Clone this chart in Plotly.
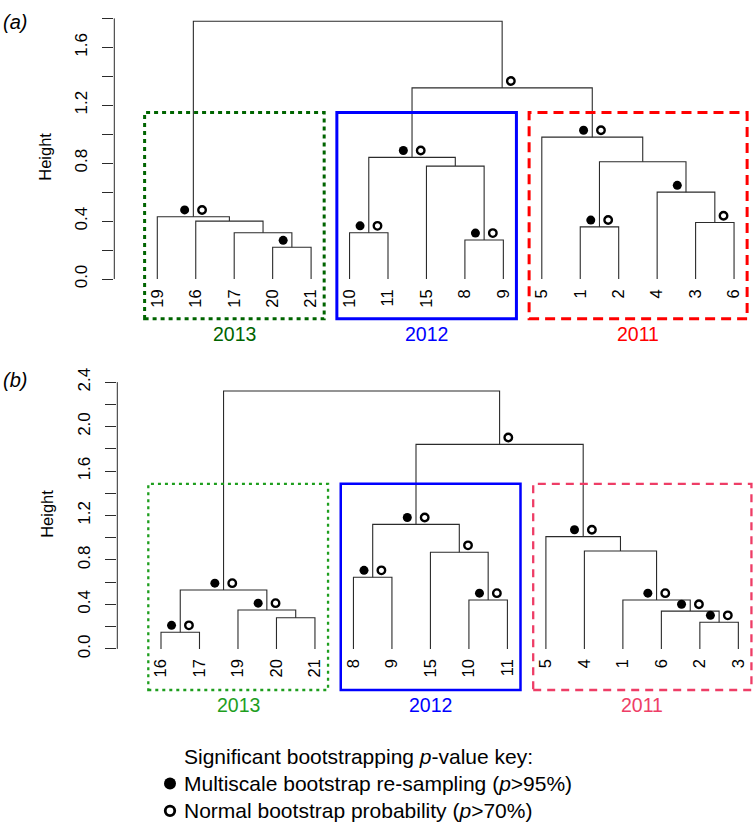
import plotly.graph_objects as go

# ---------------- data ----------------
leaves_a = ["19", "16", "17", "20", "21", "10", "11", "15", "8", "9", "5", "1", "2", "4", "3", "6"]
# each merge joins two children: a leaf label (str) or an earlier merge index (int)
merges_a = [("20", "21"), ("17", 0), ("16", 1), ("19", 2),
            ("10", "11"), ("8", "9"), ("15", 5), (4, 6),
            ("1", "2"), ("3", "6"), ("4", 9), (8, 10), ("5", 11),
            (7, 12), (3, 13)]
heights_a = [0.22, 0.32, 0.40, 0.43, 0.32, 0.27, 0.78, 0.84,
             0.36, 0.39, 0.60, 0.81, 0.98, 1.32, 1.78]
au_a = [1, 0, 0, 1, 1, 1, 0, 1, 1, 0, 1, 0, 1, 0, 0]   # multiscale bootstrap > 95%
bp_a = [0, 0, 0, 1, 1, 1, 0, 1, 1, 1, 0, 0, 1, 1, 0]   # normal bootstrap > 70%

leaves_b = ["16", "17", "19", "20", "21", "8", "9", "15", "10", "11", "5", "4", "1", "6", "2", "3"]
merges_b = [("16", "17"), ("20", "21"), ("19", 1), (0, 2),
            ("8", "9"), ("10", "11"), ("15", 5), (4, 6),
            ("2", "3"), ("6", 8), ("1", 9), ("4", 10), ("5", 11),
            (7, 12), (3, 13)]
heights_b = [0.15, 0.28, 0.35, 0.53, 0.645, 0.44, 0.87, 1.12,
             0.24, 0.34, 0.44, 0.88, 1.01, 1.84, 2.32]
au_b = [1, 0, 1, 1, 1, 1, 0, 1, 1, 1, 1, 0, 1, 0, 0]
bp_b = [1, 0, 1, 1, 1, 1, 1, 1, 1, 1, 1, 0, 1, 1, 0]

years = ["2013", "2012", "2011"]
year_leaves_a = [["19", "16", "17", "20", "21"], ["10", "11", "15", "8", "9"], ["5", "1", "2", "4", "3", "6"]]
year_leaves_b = [["16", "17", "19", "20", "21"], ["8", "9", "15", "10", "11"], ["5", "4", "1", "6", "2", "3"]]
box_top_a = 1.15
box_top_b = 1.485

yticks_a = [0.0, 0.2, 0.4, 0.6, 0.8, 1.0, 1.2, 1.4, 1.6, 1.8]
yticks_b = [0.0, 0.2, 0.4, 0.6, 0.8, 1.0, 1.2, 1.4, 1.6, 1.8, 2.0, 2.2, 2.4]

legend_title = "Significant bootstrapping <i>p</i>-value key:"
legend_au = "Multiscale bootstrap re-sampling (<i>p</i>>95%)"
legend_bp = "Normal bootstrap probability (<i>p</i>>70%)"

# ---------------- layout geometry (pixels) ----------------
W, H = 753, 834
FONT = "Liberation Sans, Arial, Helvetica, sans-serif"
LINE = "#2b2b2b"

panels = [
    dict(tag="(a)", leaves=leaves_a, merges=merges_a, heights=heights_a, au=au_a, bp=bp_a,
         yl=year_leaves_a, btop=box_top_a, yticks=yticks_a, ymax=1.85,
         axis_px=114.3, leaf1_px=157.3, sp=38.45, y0_px=276.0, ys=148.0,
         box_bottom_px=316.7, tag_y=0, height_lab=(45, 151),
         colors=["#006400", "#0000FF", "#FF0000"],
         dashes=["4px,4px", "solid", "10px,6px"], widths=[3, 3, 3],
         xa="x", ya="y"),
    dict(tag="(b)", leaves=leaves_b, merges=merges_b, heights=heights_b, au=au_b, bp=bp_b,
         yl=year_leaves_b, btop=box_top_b, yticks=yticks_b, ymax=2.45,
         axis_px=117.3, leaf1_px=161.0, sp=38.49, y0_px=654.0, ys=113.6,
         box_bottom_px=696.0, tag_y=366, height_lab=(47, 516),
         colors=["#1E9E1E", "#0000FF", "#EE3D66"],
         dashes=["3px,4px", "solid", "8px,6px"], widths=[2.3, 2.5, 2.3],
         xa="x2", ya="y2"),
]

fig = go.Figure()
shapes, annotations = [], []
layout_axes = {}


def build_tree(leaves, merges, heights):
    pos = {lab: i + 1 for i, lab in enumerate(leaves)}
    nx, xs, ys = [], [], []
    for (l, r), h in zip(merges, heights):
        def c(ch):
            if isinstance(ch, str):
                return pos[ch], 0.0
            return nx[ch], heights[ch]
        xl, yl = c(l)
        xr, yr = c(r)
        xs += [xl, xl, xr, xr, None]
        ys += [yl, h, h, yr, None]
        nx.append((xl + xr) / 2)
    return pos, nx, xs, ys


for k, p in enumerate(panels):
    pos, nx, xs, ys = build_tree(p["leaves"], p["merges"], p["heights"])
    sp, ysc = p["sp"], p["ys"]
    n = len(p["leaves"])
    xr0 = 1 - (p["leaf1_px"] - p["axis_px"]) / sp
    xr1 = 1 + (W - p["leaf1_px"]) / sp
    ytop_px = p["y0_px"] - p["ymax"] * ysc

    def dx2px(x, p=p):
        return p["leaf1_px"] + (x - 1) * p["sp"]

    def dy2px(y, p=p):
        return p["y0_px"] - y * p["ys"]

    # dendrogram branches
    fig.add_trace(go.Scatter(x=xs, y=ys, mode="lines", line=dict(color=LINE, width=1.1),
                             xaxis=p["xa"], yaxis=p["ya"], hoverinfo="skip", showlegend=False))
    # significance markers
    dxo = 8.7 / sp
    dyo = 7.0 / ysc
    fx = [nx[i] - dxo for i in range(len(nx)) if p["au"][i]]
    fy = [p["heights"][i] + dyo for i in range(len(nx)) if p["au"][i]]
    ox = [nx[i] + dxo for i in range(len(nx)) if p["bp"][i]]
    oy = [p["heights"][i] + dyo for i in range(len(nx)) if p["bp"][i]]
    fig.add_trace(go.Scatter(x=fx, y=fy, mode="markers", marker=dict(size=9, color="black"),
                             xaxis=p["xa"], yaxis=p["ya"], cliponaxis=False, showlegend=False))
    fig.add_trace(go.Scatter(x=ox, y=oy, mode="markers",
                             marker=dict(size=7.5, color="white", line=dict(color="black", width=2.4)),
                             xaxis=p["xa"], yaxis=p["ya"], cliponaxis=False, showlegend=False))

    xkey = "xaxis" if k == 0 else "xaxis2"
    ykey = "yaxis" if k == 0 else "yaxis2"
    layout_axes[xkey] = dict(domain=[p["axis_px"] / W, 1], range=[xr0, xr1], anchor=p["ya"],
                             tickmode="array", tickvals=list(range(1, n + 1)), ticktext=p["leaves"],
                             tickangle=-90, ticks="", showgrid=False, zeroline=False, showline=False,
                             ticklabelstandoff=6, tickfont=dict(family=FONT, size=16.5, color="black"))
    layout_axes[ykey] = dict(domain=[1 - p["y0_px"] / H, 1 - ytop_px / H], range=[0, p["ymax"]],
                             anchor=p["xa"], tickmode="array", tickvals=p["yticks"],
                             ticktext=[("%.1f" % v) if round(v / 0.4, 6) == round(v / 0.4) else ""
                                       for v in p["yticks"]],
                             ticks="outside", ticklen=11, tickwidth=1, tickcolor=LINE, tickangle=-90,
                             ticklabelstandoff=9, showgrid=False, zeroline=False, showline=False,
                             tickfont=dict(family=FONT, size=17, color="black"))
    # y axis line (0 .. top tick)
    shapes.append(dict(type="line", xref="paper", yref="paper",
                       x0=p["axis_px"] / W, x1=p["axis_px"] / W,
                       y0=1 - dy2px(0) / H, y1=1 - dy2px(p["yticks"][-1]) / H,
                       line=dict(color=LINE, width=1)))
    # year boxes
    for yi, yr in enumerate(years):
        xs_leaf = [pos[l] for l in p["yl"][yi]]
        left = dx2px(min(xs_leaf) - 0.33)
        right = dx2px(max(xs_leaf) + 0.34)
        top = dy2px(p["btop"])
        bot = p["box_bottom_px"]
        shapes.append(dict(type="rect", xref="paper", yref="paper",
                           x0=left / W, x1=right / W, y0=1 - bot / H, y1=1 - top / H,
                           line=dict(color=p["colors"][yi], width=p["widths"][yi], dash=p["dashes"][yi]),
                           fillcolor="rgba(0,0,0,0)"))
        annotations.append(dict(xref="paper", yref="paper", x=(left + right) / 2 / W,
                                y=1 - (bot + 15) / H, text=yr, showarrow=False,
                                xanchor="center", yanchor="middle",
                                font=dict(family=FONT, size=19.5, color=p["colors"][yi])))
    # panel tag
    annotations.append(dict(xref="paper", yref="paper", x=1 / W, y=1 - p["tag_y"] / H,
                            text="<i>" + p["tag"] + "</i>", showarrow=False,
                            xanchor="left", yanchor="top",
                            font=dict(family=FONT, size=20, color="black")))
    # y axis title
    hx, hy = p["height_lab"]
    annotations.append(dict(xref="paper", yref="paper", x=hx / W, y=1 - hy / H, text="Height",
                            textangle=-90, showarrow=False, xanchor="center", yanchor="middle",
                            font=dict(family=FONT, size=16.5, color="black")))

# legend (pixel-space hidden axis)
fig.add_trace(go.Scatter(x=[170], y=[791.5], mode="markers", marker=dict(size=12, color="black"),
                         xaxis="x3", yaxis="y3", showlegend=False, cliponaxis=False))
fig.add_trace(go.Scatter(x=[170], y=[819.5], mode="markers",
                         marker=dict(size=9.5, color="white", line=dict(color="black", width=2.8)),
                         xaxis="x3", yaxis="y3", showlegend=False, cliponaxis=False))
for txt, yy in [(legend_title, 764), (legend_au, 791.5), (legend_bp, 819.5)]:
    annotations.append(dict(xref="paper", yref="paper", x=182 / W, y=1 - yy / H, text=txt,
                            showarrow=False, xanchor="left", yanchor="middle",
                            font=dict(family=FONT, size=21, color="black")))

layout_axes["xaxis3"] = dict(domain=[0, 1], range=[0, W], visible=False, anchor="y3")
layout_axes["yaxis3"] = dict(domain=[0, 1], range=[H, 0], visible=False, anchor="x3")

fig.update_layout(width=W, height=H, autosize=False, margin=dict(l=0, r=0, t=0, b=0),
                  paper_bgcolor="white", plot_bgcolor="rgba(0,0,0,0)",
                  shapes=shapes, annotations=annotations, showlegend=False, **layout_axes)
fig.write_html("out.html")
